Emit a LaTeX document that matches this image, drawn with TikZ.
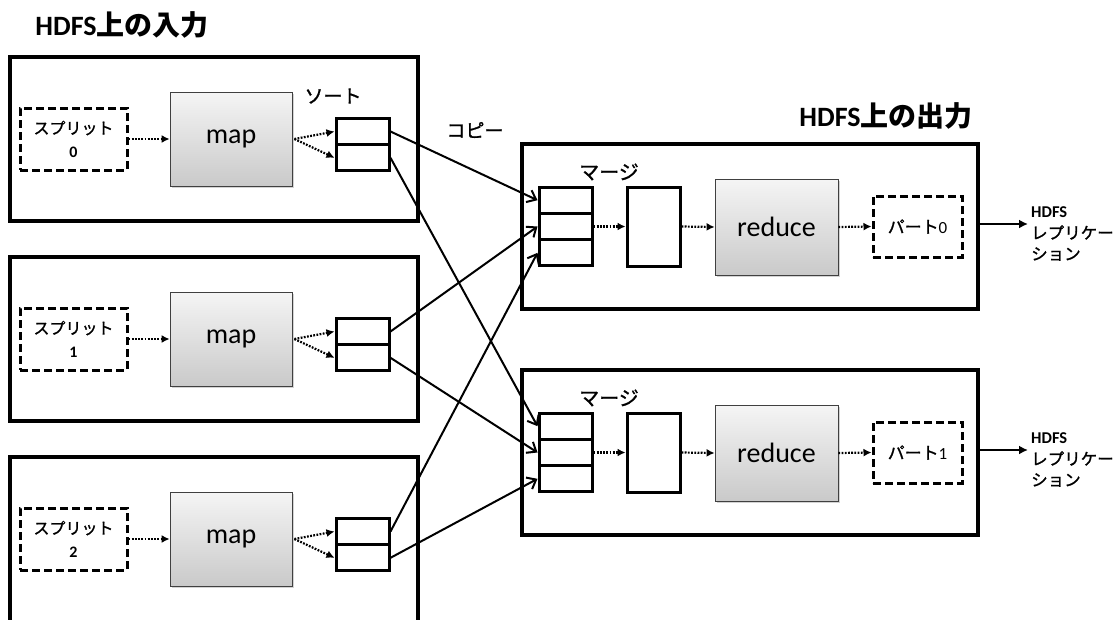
\documentclass[tikz,border=0pt]{standalone}
\usepackage{fontspec}
\setmainfont{Carlito}
\newfontfamily\cjk{Noto Sans CJK JP}[FakeBold=1.2]
\newfontfamily\cjkbold{Noto Sans CJK JP Bold}
\usetikzlibrary{arrows.meta,shadows}

\begin{document}
\begin{tikzpicture}[x=1pt,y=-1pt,
  frame/.style={draw,line width=3.4pt},
  cell/.style={draw,line width=3pt,minimum width=53pt,minimum height=26.3pt,inner sep=0pt},
  dbox/.style={draw,line width=3pt,dash pattern=on 8pt off 4pt,inner sep=0pt,align=center},
  proc/.style={draw=black!75,line width=0.8pt,top color=gray!8,bottom color=gray!42,
    drop shadow={opacity=0.35,shadow xshift=1.5pt,shadow yshift=-2pt},inner sep=0pt,font=\fontsize{28}{30}\selectfont},
  flow/.style={line width=2.2pt,dash pattern=on 1.8pt off 1.4pt,-{Latex[length=8pt,width=8pt]}},
  copyarrow/.style={line width=2pt,-{Straight Barb[length=8pt,width=13pt,line width=2pt]}},
  repl/.style={line width=2.2pt,-{Latex[length=9pt,width=9pt]}},
  lbl/.style={font=\fontsize{19}{20}\selectfont\cjk,inner sep=0pt},
  title/.style={font=\fontsize{28}{30}\selectfont\bfseries,inner sep=0pt},
]
\useasboundingbox (0,0) rectangle (1120,619);

% map side: three input blocks
\foreach \k/\dy in {0/0,1/200,2/400} {
  \node[dbox,minimum width=107pt,minimum height=62pt,font=\fontsize{16}{23}\selectfont] (split\k) at (73.5,{139+\dy})
    {{\cjk スプリット}\\\textbf{\k}};
  \node[proc,minimum width=122pt,minimum height=94pt] (map\k) at (231,{139+\dy}) {map};
  \node[cell] (sortU\k) at (362.5,{131.5+\dy}) {};
  \node[cell] (sortL\k) at (362.5,{157.8+\dy}) {};
  \draw[flow] (split\k) -- (map\k);
  \draw[flow] ([xshift=2pt]map\k.east) -- (sortU\k.west);
  \draw[flow] ([xshift=2pt]map\k.east) -- (sortL\k.west);
}
\draw[frame] (10,57) rectangle (418,221);
\draw[frame] (10,257) rectangle (418,421);
\draw[frame] (10,640) -- (10,457) -- (418,457) -- (418,640);

\node[title] (intitle) at (122,25) {HDFS{\cjkbold 上の入力}};
\node[lbl] (sortlbl) at (333,96) {ソート};
\node[lbl] (copylbl) at (475,130) {コピー};
\node[title] (outtitle) at (886,116) {HDFS{\cjkbold 上の出力}};

% reduce side: two output blocks
\foreach \j/\dy in {0/0,1/226} {
  \draw[frame] (522,{144+\dy}) rectangle (978,{309+\dy});
  \node[cell] (mA\j) at (565.5,{200.2+\dy}) {};
  \node[cell] (mB\j) at (565.5,{226.5+\dy}) {};
  \node[cell] (mC\j) at (565.5,{252.8+\dy}) {};
  \node[cell,minimum height=79pt] (buf\j) at (653.5,{226.5+\dy}) {};
  \node[proc,minimum width=123pt,minimum height=96pt] (red\j) at (776.5,{227+\dy}) {reduce};
  \node[dbox,minimum width=89pt,minimum height=61pt,font=\fontsize{17}{20}\selectfont] (part\j) at (917.5,{226.5+\dy})
    {{\cjk パート}\j};
  \node[lbl,font=\fontsize{20}{22}\selectfont\cjk] (mlbl\j) at (609,{172+\dy}) {マージ};
  \draw[flow] (mB\j.east) -- (buf\j.west);
  \draw[flow] (buf\j.east) -- (red\j.west);
  \draw[flow] (red\j.east) -- (part\j.west);
  \coordinate (rs\j) at (978,{224+\dy});
  \coordinate (re\j) at (1028,{224+\dy});
  \draw[repl] (rs\j) -- (re\j);
  \node[anchor=west,align=left,inner sep=0pt,font=\fontsize{16.5}{21}\selectfont] (hdfs\j) at (1031,{234+\dy})
    {\textbf{HDFS}\\{\cjk レプリケー}\\{\cjk ション}};
}

% shuffle: each sorted run goes to one merge per reducer
\foreach \k/\c in {0/A,1/B,2/C} {
  \draw[copyarrow] (sortU\k.east) -- (m\c0.west);
  \draw[copyarrow] (sortL\k.east) -- (m\c1.west);
}
\end{tikzpicture}
\end{document}
